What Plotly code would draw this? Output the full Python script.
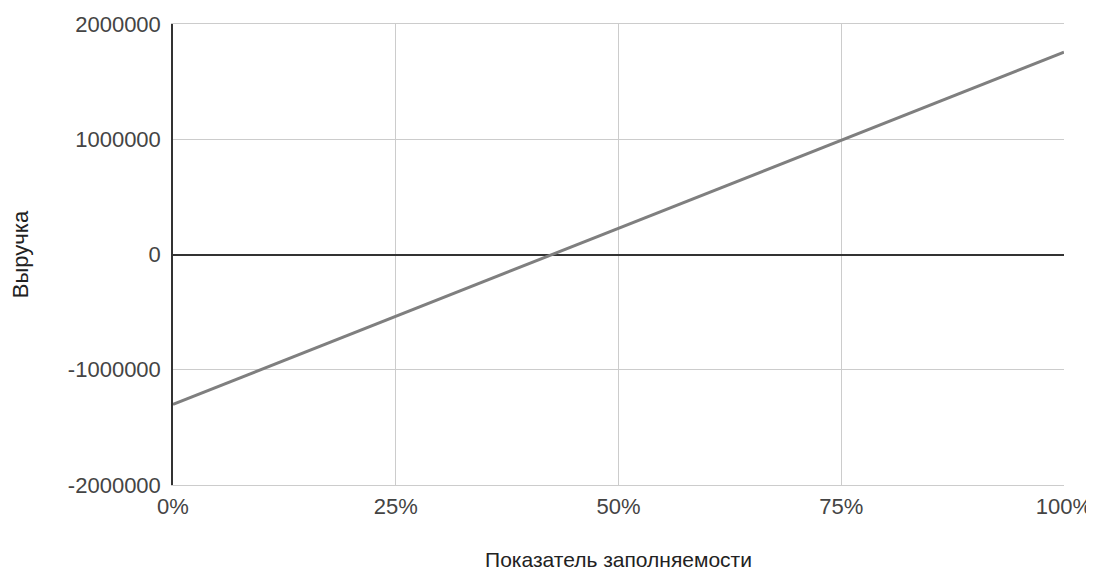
import plotly.graph_objects as go

occupancy = [0.0, 0.25, 0.5, 0.75, 1.0]
revenue = [-1300000, -535000, 228000, 990000, 1755000]

x_tick_vals = [0, 0.25, 0.5, 0.75, 1.0]
x_tick_text = ["0%", "25%", "50%", "75%", "100%"]
y_tick_vals = [-2000000, -1000000, 0, 1000000, 2000000]
y_tick_text = ["-2000000", "-1000000", "0", "1000000", "2000000"]

font_family = "Liberation Sans, Arial, sans-serif"

fig = go.Figure()
fig.add_trace(go.Scatter(
    x=occupancy, y=revenue, mode="lines",
    line=dict(color="#7f7f7f", width=3),
    showlegend=False, hoverinfo="skip",
))

fig.update_layout(
    width=1094, height=571,
    margin=dict(l=165, r=38, t=16, b=94),
    paper_bgcolor="white", plot_bgcolor="white",
    font=dict(family=font_family, size=22, color="#444444"),
)
fig.update_xaxes(
    range=[0, 1], tickvals=x_tick_vals, ticktext=x_tick_text,
    automargin=False,
    showgrid=True, gridcolor="#cccccc", gridwidth=1,
    showline=True, linecolor="#cccccc", linewidth=1, mirror=True,
    zeroline=False, ticks="", ticklen=0, ticklabelstandoff=2,
    tickfont=dict(size=22, color="#444444"),
    title=dict(text="Показатель заполняемости", font=dict(size=21, color="#222222"), standoff=33),
)
fig.update_yaxes(
    range=[-2000000, 2000000], tickvals=y_tick_vals, ticktext=y_tick_text,
    automargin=False,
    showgrid=True, gridcolor="#cccccc", gridwidth=1,
    showline=True, linecolor="#333333", linewidth=1.5,
    zeroline=True, zerolinecolor="#333333", zerolinewidth=1.5,
    ticks="", ticklen=0, ticklabelstandoff=6,
    tickfont=dict(size=22, color="#444444"),
    title=dict(text="Выручка", font=dict(size=22, color="#222222"), standoff=44),
)

fig.write_html("out.html")
